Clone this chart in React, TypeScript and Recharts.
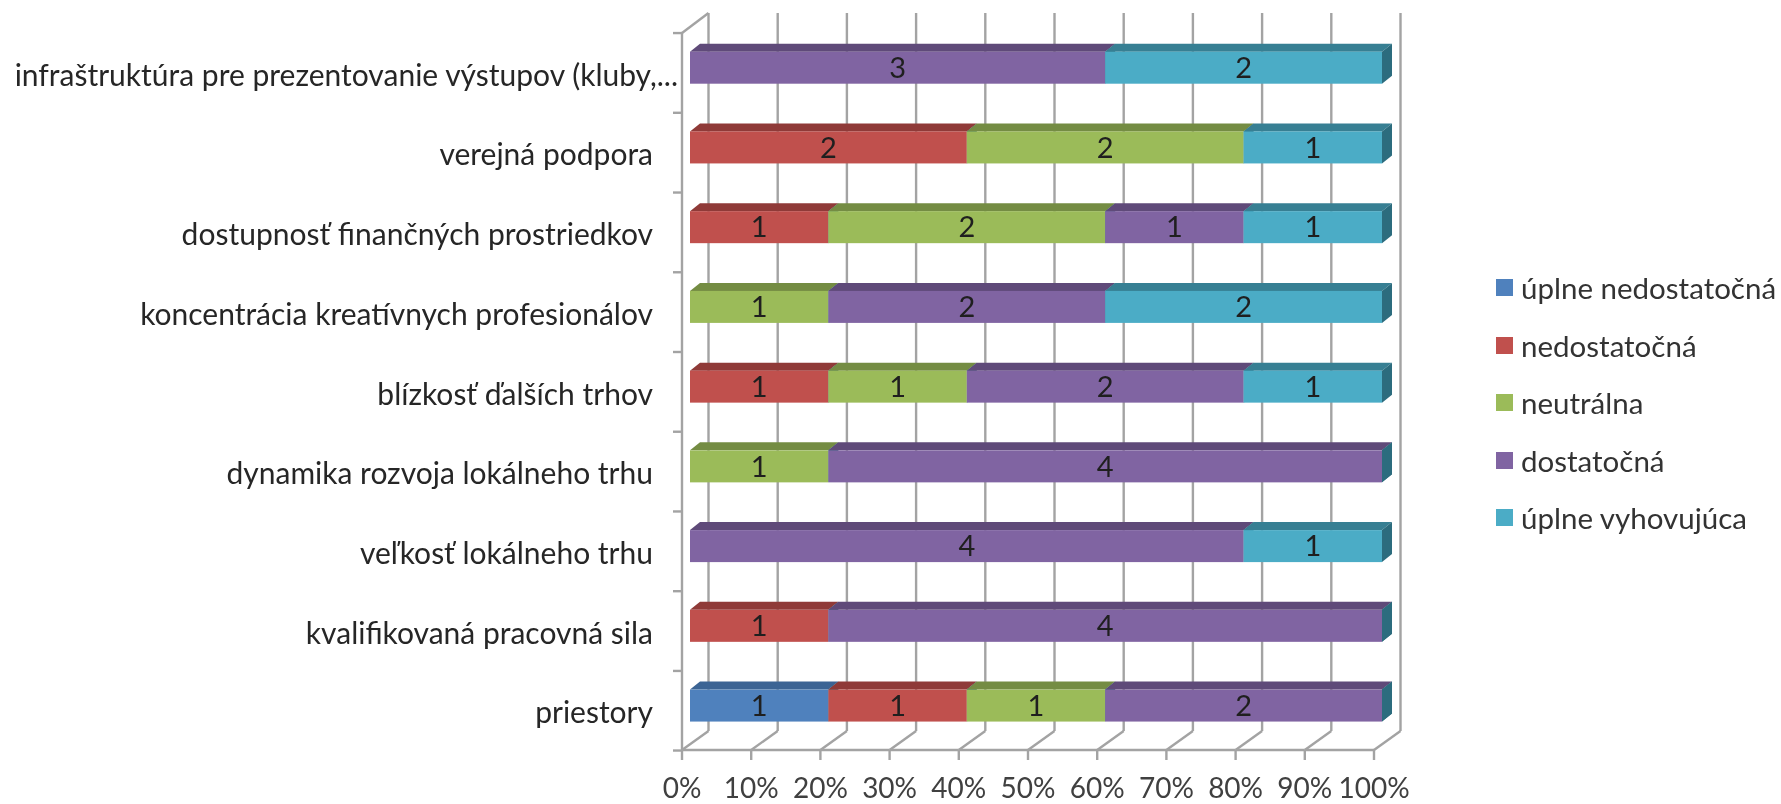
// App.tsx
import { BarChart, Bar, XAxis, YAxis, CartesianGrid, Legend, LabelList } from 'recharts';

const categories = [
  'infraštruktúra pre prezentovanie výstupov (kluby,...',
  'verejná podpora',
  'dostupnosť finančných prostriedkov',
  'koncentrácia kreatívnych profesionálov',
  'blízkosť ďalších trhov',
  'dynamika rozvoja lokálneho trhu',
  'veľkosť lokálneho trhu',
  'kvalifikovaná pracovná sila',
  'priestory',
];

const uplneNedostatocna = [0, 0, 0, 0, 0, 0, 0, 0, 1];
const nedostatocna = [0, 2, 1, 0, 1, 0, 0, 1, 1];
const neutralna = [0, 2, 2, 1, 1, 1, 0, 0, 1];
const dostatocna = [3, 0, 1, 2, 2, 4, 4, 4, 2];
const uplneVyhovujuca = [2, 1, 1, 2, 1, 0, 1, 0, 0];

const xTicks = [0, 0.1, 0.2, 0.3, 0.4, 0.5, 0.6, 0.7, 0.8, 0.9, 1];

const chartData = categories.map((name, i) => ({
  name,
  a: uplneNedostatocna[i],
  b: nedostatocna[i],
  c: neutralna[i],
  d: dostatocna[i],
  e: uplneVyhovujuca[i],
}));

const FONT = 'Lato, sans-serif';
const AXIS_COLOR = '#a3a3a3';
const SIDE_COLOR = '#2c6c7e';
const DEPTH_X = 10;
const DEPTH_Y = 8;
const BAND = 79.6;
const TICK_STEP = 69.2;

// fake 3D box: front face, top face and the right side
function Box3D(props: any) {
  const { x, y, width, height, fill, topFill, showSide } = props;
  return (
    <g>
      {width > 0 && (
        <path
          d={`M${x},${y} L${x + DEPTH_X},${y - DEPTH_Y} H${x + width + DEPTH_X} L${x + width},${y} Z`}
          fill={topFill}
        />
      )}
      {(width > 0 || showSide) && (
        <path
          d={`M${x + width},${y} L${x + width + DEPTH_X},${y - DEPTH_Y} V${y + height - DEPTH_Y} L${x + width},${y + height} Z`}
          fill={SIDE_COLOR}
        />
      )}
      {width > 0 && <rect x={x} y={y} width={width} height={height} fill={fill} />}
    </g>
  );
}

// back wall lines, floor diagonals and the front axis lines
function WallLine(props: any) {
  const { x1, y1, y2, index } = props;
  const front = x1 - 8;
  const back = x1 + 18.5;
  const top = y1 - 14.7;
  const floorBack = y2 - 14.3;
  const floorFront = y2 + 4.7;
  const s = { stroke: AXIS_COLOR, strokeWidth: 2.4, fill: 'none' };
  return (
    <g key={`wall-${index}`}>
      <line x1={back} y1={top} x2={back} y2={floorBack} {...s} />
      <line x1={back} y1={floorBack} x2={front} y2={floorFront} {...s} />
      {index === 0 && (
        <>
          <line x1={front} y1={y1 + 5.3} x2={front} y2={floorFront} {...s} />
          <line x1={front} y1={y1 + 5.3} x2={back} y2={top} {...s} />
        </>
      )}
      {index < xTicks.length - 1 && (
        <line x1={front} y1={floorFront} x2={front + TICK_STEP} y2={floorFront} {...s} />
      )}
    </g>
  );
}

function XTick({ x, payload }: any) {
  const tx = x - 8;
  return (
    <g>
      <line x1={tx} y1={750} x2={tx} y2={760} stroke={AXIS_COLOR} strokeWidth={2.4} />
      <text x={tx} y={797.5} textAnchor="middle" fontFamily={FONT} fontSize={28} fill="#404040">
        {`${Math.round(payload.value * 100)}%`}
      </text>
    </g>
  );
}

function YTick({ y, payload, index }: any) {
  const truncated = payload.value.endsWith('...');
  const markY = y - BAND / 2 + 5.3;
  return (
    <g>
      <line x1={673} y1={markY} x2={682} y2={markY} stroke={AXIS_COLOR} strokeWidth={2.4} />
      {index === categories.length - 1 && (
        <line x1={673} y1={markY + BAND} x2={682} y2={markY + BAND} stroke={AXIS_COLOR} strokeWidth={2.4} />
      )}
      <text x={truncated ? 678 : 653} y={y + 18} textAnchor="end" fontFamily={FONT} fontSize={30} fill="#262626">
        {payload.value}
      </text>
    </g>
  );
}

function LegendBox({ payload }: any) {
  return (
    <div style={{ fontFamily: FONT, fontSize: 29.5, color: '#333', whiteSpace: 'nowrap' }}>
      {(payload || []).map((item: any) => (
        <div key={item.value} style={{ display: 'flex', alignItems: 'center', height: 57.5 }}>
          <span style={{ width: 17, height: 17, background: item.color, marginRight: 8 }} />
          <span>{item.value}</span>
        </div>
      ))}
    </div>
  );
}

const series = [
  { key: 'a', name: 'úplne nedostatočná', fill: '#4f81bd', top: '#3c6494' },
  { key: 'b', name: 'nedostatočná', fill: '#c0504d', top: '#8f3a38' },
  { key: 'c', name: 'neutrálna', fill: '#9bbb59', top: '#748c43' },
  { key: 'd', name: 'dostatočná', fill: '#8064a2', top: '#5f4a79' },
  { key: 'e', name: 'úplne vyhovujúca', fill: '#4bacc6', top: '#377f93' },
];

export default function App() {
  return (
    <div style={{ position: 'absolute', left: 0, top: 0, width: 1781, height: 804, background: '#fff', filter: 'blur(0.6px)' }}>
      <BarChart
        width={1781}
        height={804}
        data={chartData}
        layout="vertical"
        stackOffset="expand"
        margin={{ top: 27.7, right: 114, bottom: 0, left: 0 }}
      >
        <CartesianGrid horizontal={false} vertical={(p: any) => <WallLine {...p} />} />
        <XAxis
          type="number"
          domain={[0, 1]}
          ticks={xTicks}
          interval={0}
          height={58.7}
          axisLine={false}
          tickLine={false}
          tick={<XTick />}
        />
        <YAxis
          type="category"
          dataKey="name"
          width={690}
          interval={0}
          axisLine={false}
          tickLine={false}
          tick={<YTick />}
        />
        <Legend
          layout="vertical"
          align="right"
          verticalAlign="top"
          width={285}
          itemSorter={null}
          content={<LegendBox />}
          wrapperStyle={{ position: 'absolute', left: 1496, top: 259, width: 285 }}
        />
        {series.map((s, i) => (
          <Bar
            key={s.key}
            dataKey={s.key}
            name={s.name}
            stackId="total"
            fill={s.fill}
            barSize={32}
            isAnimationActive={false}
            shape={(p: any) => <Box3D {...p} fill={s.fill} topFill={s.top} showSide={i === series.length - 1} />}
          >
            <LabelList
              dataKey={s.key}
              position="center"
              formatter={(v: any) => (v ? v : '')}
              style={{ fontFamily: FONT, fontSize: 29, fill: '#1f1f1f' }}
            />
          </Bar>
        ))}
      </BarChart>
    </div>
  );
}
